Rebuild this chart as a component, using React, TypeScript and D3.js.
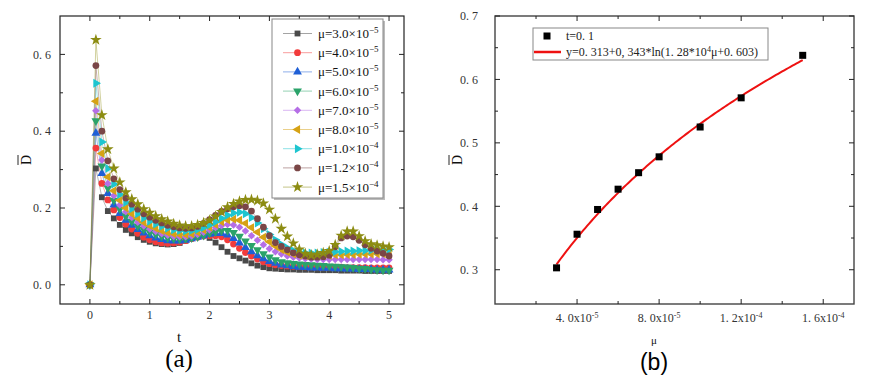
import React from "react";
import * as d3 from "d3";

// ---------- Panel (a) data ----------
const T = [
  0, 0.1, 0.2, 0.3, 0.4, 0.5, 0.6, 0.7, 0.8, 0.9,
  1.0, 1.1, 1.2, 1.3, 1.4, 1.5, 1.6, 1.7, 1.8, 1.9,
  2.0, 2.1, 2.2, 2.3, 2.4, 2.5, 2.6, 2.7, 2.8, 2.9,
  3.0, 3.1, 3.2, 3.3, 3.4, 3.5, 3.6, 3.7, 3.8, 3.9,
  4.0, 4.1, 4.2, 4.3, 4.4, 4.5, 4.6, 4.7, 4.8, 4.9, 5.0,
];

const D_MU30 = [
  0, 0.303, 0.228, 0.192, 0.173, 0.156, 0.143, 0.134, 0.124, 0.117,
  0.112, 0.108, 0.106, 0.105, 0.106, 0.109, 0.115, 0.121, 0.127, 0.129,
  0.122, 0.11, 0.098, 0.086, 0.075, 0.069, 0.063, 0.056, 0.05, 0.046,
  0.043, 0.042, 0.041, 0.04, 0.04, 0.039, 0.039, 0.039, 0.038, 0.038,
  0.038, 0.038, 0.037, 0.037, 0.037, 0.037, 0.036, 0.036, 0.036, 0.036, 0.036,
];
const D_MU40 = [
  0, 0.356, 0.264, 0.221, 0.195, 0.175, 0.158, 0.145, 0.134, 0.124,
  0.117, 0.112, 0.109, 0.108, 0.109, 0.111, 0.115, 0.12, 0.124, 0.127,
  0.128, 0.128, 0.125, 0.117, 0.106, 0.095, 0.084, 0.075, 0.067, 0.06,
  0.055, 0.052, 0.05, 0.049, 0.048, 0.048, 0.047, 0.047, 0.047, 0.046,
  0.046, 0.046, 0.046, 0.045, 0.045, 0.045, 0.045, 0.044, 0.044, 0.044, 0.044,
];
const D_MU50 = [
  0, 0.395, 0.29, 0.238, 0.208, 0.186, 0.168, 0.155, 0.144, 0.135,
  0.128, 0.122, 0.118, 0.115, 0.114, 0.114, 0.116, 0.12, 0.124, 0.128,
  0.132, 0.134, 0.134, 0.13, 0.121, 0.109, 0.097, 0.086, 0.076, 0.068,
  0.061, 0.056, 0.052, 0.05, 0.048, 0.046, 0.045, 0.044, 0.044, 0.043,
  0.043, 0.042, 0.042, 0.041, 0.041, 0.04, 0.04, 0.04, 0.039, 0.039, 0.039,
];
const D_MU60 = [
  0, 0.427, 0.309, 0.252, 0.22, 0.197, 0.179, 0.165, 0.153, 0.144,
  0.137, 0.131, 0.126, 0.122, 0.12, 0.119, 0.12, 0.122, 0.125, 0.129,
  0.134, 0.138, 0.141, 0.141, 0.136, 0.126, 0.114, 0.102, 0.091, 0.081,
  0.072, 0.065, 0.06, 0.057, 0.055, 0.054, 0.053, 0.052, 0.051, 0.05,
  0.049, 0.048, 0.047, 0.046, 0.045, 0.043, 0.042, 0.04, 0.039, 0.038, 0.038,
];
const D_MU70 = [
  0, 0.453, 0.325, 0.264, 0.232, 0.208, 0.19, 0.175, 0.163, 0.153,
  0.145, 0.139, 0.133, 0.129, 0.126, 0.125, 0.125, 0.127, 0.131, 0.137,
  0.143, 0.149, 0.154, 0.157, 0.156, 0.15, 0.14, 0.128, 0.116, 0.104,
  0.094, 0.086, 0.08, 0.075, 0.072, 0.07, 0.068, 0.067, 0.066, 0.066,
  0.066, 0.066, 0.066, 0.066, 0.066, 0.066, 0.066, 0.066, 0.066, 0.065, 0.065,
];
const D_MU80 = [
  0, 0.478, 0.342, 0.281, 0.245, 0.22, 0.2, 0.185, 0.173, 0.163,
  0.154, 0.147, 0.141, 0.136, 0.133, 0.131, 0.131, 0.133, 0.137, 0.143,
  0.15, 0.157, 0.164, 0.169, 0.171, 0.168, 0.16, 0.149, 0.137, 0.124,
  0.112, 0.101, 0.092, 0.085, 0.08, 0.077, 0.076, 0.075, 0.075, 0.076,
  0.077, 0.078, 0.078, 0.079, 0.079, 0.08, 0.08, 0.08, 0.081, 0.081, 0.08,
];
const D_MU100 = [
  0, 0.525, 0.372, 0.303, 0.262, 0.235, 0.214, 0.198, 0.185, 0.174,
  0.165, 0.158, 0.152, 0.147, 0.143, 0.141, 0.14, 0.141, 0.144, 0.149,
  0.156, 0.164, 0.173, 0.181, 0.187, 0.189, 0.185, 0.175, 0.161, 0.146,
  0.131, 0.117, 0.105, 0.096, 0.089, 0.085, 0.083, 0.083, 0.083, 0.084,
  0.085, 0.086, 0.087, 0.088, 0.088, 0.089, 0.089, 0.09, 0.09, 0.091, 0.092,
];
const D_MU120 = [
  0, 0.571, 0.4, 0.323, 0.276, 0.248, 0.226, 0.21, 0.197, 0.185,
  0.176, 0.168, 0.161, 0.155, 0.151, 0.148, 0.147, 0.148, 0.152, 0.16,
  0.17, 0.181, 0.191, 0.198, 0.203, 0.206, 0.203, 0.192, 0.172, 0.15,
  0.128, 0.11, 0.1, 0.091, 0.083, 0.078, 0.075, 0.072, 0.072, 0.073,
  0.077, 0.099, 0.122, 0.127, 0.125, 0.116, 0.104, 0.095, 0.088, 0.082, 0.075,
];
const D_MU150 = [
  0, 0.638, 0.442, 0.353, 0.303, 0.267, 0.241, 0.223, 0.21, 0.197,
  0.188, 0.179, 0.171, 0.165, 0.159, 0.155, 0.153, 0.153, 0.156, 0.161,
  0.168, 0.178, 0.19, 0.202, 0.211, 0.217, 0.221, 0.222, 0.219, 0.212,
  0.196, 0.172, 0.146, 0.126, 0.108, 0.092, 0.081, 0.077, 0.079, 0.083,
  0.088, 0.104, 0.128, 0.139, 0.139, 0.127, 0.114, 0.106, 0.103, 0.1, 0.098,
];

const SERIES_A = [D_MU30, D_MU40, D_MU50, D_MU60, D_MU70, D_MU80, D_MU100, D_MU120, D_MU150];
const LEGEND_MANT = ["3.0", "4.0", "5.0", "6.0", "7.0", "8.0", "1.0", "1.2", "1.5"];
const LEGEND_EXP = ["−5", "−5", "−5", "−5", "−5", "−5", "−4", "−4", "−4"];
const COLORS = ["#4a4a4a", "#f23b3b", "#1f5fd6", "#2ba36a", "#b56ee6", "#d6a215", "#1ec5cf", "#7a4646", "#8c8c12"];
const SHAPES = ["square", "circle", "triUp", "triDown", "diamond", "triLeft", "triRight", "circle", "star"];

const A_XTICKS = [0, 1, 2, 3, 4, 5];
const A_XMINOR = [0.5, 1.5, 2.5, 3.5, 4.5];
const A_YTICKS = [0, 0.2, 0.4, 0.6];
const A_YLABELS = ["0. 0", "0. 2", "0. 4", "0. 6"];
const A_YMINOR = [0.1, 0.3, 0.5];

// ---------- Panel (b) data ----------
const MU_B = [3e-5, 4e-5, 5e-5, 6e-5, 7e-5, 8e-5, 1.0e-4, 1.2e-4, 1.5e-4];
const D_B = [0.303, 0.356, 0.395, 0.427, 0.453, 0.478, 0.525, 0.571, 0.638];
const FIT = [0.313, 0.343, 1.28e4, 0.603];
const B_XTICKS = [4e-5, 8e-5, 1.2e-4, 1.6e-4];
const B_XMANT = ["4. 0x10", "8. 0x10", "1. 2x10", "1. 6x10"];
const B_XEXP = ["-5", "-5", "-4", "-4"];
const B_XMINOR = [2e-5, 6e-5, 1.0e-4, 1.4e-4];
const B_YTICKS = [0.3, 0.4, 0.5, 0.6, 0.7];
const B_YLABELS = ["0. 3", "0. 4", "0. 5", "0. 6", "0. 7"];
const B_YMINOR = [0.35, 0.45, 0.55, 0.65];

const SERIF = "Liberation Serif";
const SANS = "Liberation Sans";

function symbolPath(shape: string): { d: string; rot: number } {
  switch (shape) {
    case "square":
      return { d: d3.symbol(d3.symbolSquare, 34)() as string, rot: 0 };
    case "circle":
      return { d: d3.symbol(d3.symbolCircle, 36)() as string, rot: 0 };
    case "triUp":
      return { d: d3.symbol(d3.symbolTriangle, 34)() as string, rot: 0 };
    case "triDown":
      return { d: d3.symbol(d3.symbolTriangle, 34)() as string, rot: 180 };
    case "triLeft":
      return { d: d3.symbol(d3.symbolTriangle, 34)() as string, rot: -90 };
    case "triRight":
      return { d: d3.symbol(d3.symbolTriangle, 34)() as string, rot: 90 };
    case "diamond":
      return { d: d3.symbol(d3.symbolSquare, 28)() as string, rot: 45 };
    case "star":
      return { d: d3.symbol(d3.symbolStar, 42)() as string, rot: 0 };
  }
  return { d: "", rot: 0 };
}

function Marker({ shape, x, y, color }: { shape: string; x: number; y: number; color: string }) {
  const s = symbolPath(shape);
  return <path d={s.d} transform={`translate(${x},${y}) rotate(${s.rot})`} fill={color} />;
}

const serif = { fontFamily: SERIF };

export default function App() {
  const xA = d3.scaleLinear().domain([-0.5, 5.25]).range([60, 404]);
  const yA = d3.scaleLinear().domain([-0.05, 0.7]).range([304, 16]);
  const A = { l: 60, r: 404, t: 16, b: 304 };

  const xB = d3.scaleLinear().domain([0, 1.75e-4]).range([495, 854]);
  const yB = d3.scaleLinear().domain([0.246, 0.7]).range([304, 16]);
  const B = { l: 495, r: 854, t: 16, b: 304 };

  const lineA = d3
    .line<number>()
    .x((_, i) => xA(T[i]))
    .y((v) => yA(v));

  const fitMu = d3.range(MU_B[0], MU_B[MU_B.length - 1] + 1e-9, 1e-6);
  const fitLine = d3
    .line<number>()
    .x((m) => xB(m))
    .y((m) => yB(FIT[0] + FIT[1] * Math.log(FIT[2] * m + FIT[3])));

  const majLen = 5;
  const minLen = 3;
  const tickColor = "#222";

  return (
    <svg
      width={872}
      height={383}
      style={{ position: "absolute", left: 0, top: 0, background: "#fff", fontFamily: SERIF }}
    >
      <rect x={0} y={0} width={872} height={383} fill="#fff" />

      {/* ---------------- Panel (a) ---------------- */}
      <g>
        {SERIES_A.map((s, k) => (
          <path
            key={"l" + k}
            d={lineA(s) as string}
            fill="none"
            stroke={COLORS[k]}
            strokeOpacity={0.45}
            strokeWidth={0.9}
          />
        ))}
        {SERIES_A.map((s, k) => (
          <g key={"m" + k}>
            {s.map((v, i) => (
              <Marker key={i} shape={SHAPES[k]} x={xA(T[i])} y={yA(v)} color={COLORS[k]} />
            ))}
          </g>
        ))}

        <rect x={A.l} y={A.t} width={A.r - A.l} height={A.b - A.t} fill="none" stroke="#222" strokeWidth={1.2} />
        {A_XTICKS.map((t) => (
          <g key={"ax" + t}>
            <line x1={xA(t)} x2={xA(t)} y1={A.b} y2={A.b - majLen} stroke={tickColor} />
            <line x1={xA(t)} x2={xA(t)} y1={A.t} y2={A.t + majLen} stroke={tickColor} />
            <text x={xA(t)} y={A.b + 15} textAnchor="middle" fontSize={12} fill="#333" style={serif}>
              {t}
            </text>
          </g>
        ))}
        {A_XMINOR.map((t) => (
          <g key={"axm" + t}>
            <line x1={xA(t)} x2={xA(t)} y1={A.b} y2={A.b - minLen} stroke={tickColor} />
            <line x1={xA(t)} x2={xA(t)} y1={A.t} y2={A.t + minLen} stroke={tickColor} />
          </g>
        ))}
        {A_YTICKS.map((v, i) => (
          <g key={"ay" + v}>
            <line x1={A.l} x2={A.l + majLen} y1={yA(v)} y2={yA(v)} stroke={tickColor} />
            <line x1={A.r} x2={A.r - majLen} y1={yA(v)} y2={yA(v)} stroke={tickColor} />
            <text x={A.l - 9} y={yA(v)} dy="0.35em" textAnchor="end" fontSize={12} fill="#333" style={serif}>
              {A_YLABELS[i]}
            </text>
          </g>
        ))}
        {A_YMINOR.map((v) => (
          <g key={"aym" + v}>
            <line x1={A.l} x2={A.l + minLen} y1={yA(v)} y2={yA(v)} stroke={tickColor} />
            <line x1={A.r} x2={A.r - minLen} y1={yA(v)} y2={yA(v)} stroke={tickColor} />
          </g>
        ))}

        {/* legend */}
        <rect x={274} y={21} width={111} height={179} fill="#bbb" />
        <rect x={272} y={19} width={111} height={179} fill="#fff" stroke="#888" strokeWidth={1} />
        {LEGEND_MANT.map((m, i) => {
          const y = 33.5 + 19.2 * i;
          return (
            <g key={"lg" + i}>
              <line x1={283} x2={312} y1={y} y2={y} stroke={COLORS[i]} strokeOpacity={0.5} strokeWidth={1} />
              <Marker shape={SHAPES[i]} x={297.5} y={y} color={COLORS[i]} />
              <text x={318} y={y} dy="0.35em" fontSize={13} fill="#111" style={serif}>
                μ={m}×10
                <tspan fontSize={9} dy="-5">
                  {LEGEND_EXP[i]}
                </tspan>
              </text>
            </g>
          );
        })}

        <g transform="translate(26,160) rotate(-90)">
          <text x={0} y={0} textAnchor="middle" dy="0.35em" fontSize={14} fill="#111" style={serif}>
            D
          </text>
          <line x1={-5} x2={5} y1={-8} y2={-8} stroke="#111" strokeWidth={0.9} />
        </g>
        <text x={179} y={337} textAnchor="middle" dy="0.35em" fontSize={15} fill="#111" style={serif}>
          t
        </text>
        <text x={179} y={358} textAnchor="middle" dy="0.35em" fontSize={25} fill="#000" style={serif}>
          (a)
        </text>
      </g>

      {/* ---------------- Panel (b) ---------------- */}
      <g>
        <path d={fitLine(fitMu) as string} fill="none" stroke="#ee1111" strokeWidth={2} />
        {MU_B.map((m, i) => (
          <rect key={"p" + i} x={xB(m) - 3.5} y={yB(D_B[i]) - 3.5} width={7} height={7} fill="#000" />
        ))}

        <rect x={B.l} y={B.t} width={B.r - B.l} height={B.b - B.t} fill="none" stroke="#444" strokeWidth={1.4} />
        {B_XTICKS.map((m, i) => (
          <g key={"bx" + i}>
            <line x1={xB(m)} x2={xB(m)} y1={B.b} y2={B.b - majLen} stroke={tickColor} />
            <line x1={xB(m)} x2={xB(m)} y1={B.t} y2={B.t + majLen} stroke={tickColor} />
            <text x={xB(m)} y={B.b + 18} textAnchor="middle" fontSize={12} fill="#333" style={serif}>
              {B_XMANT[i]}
              <tspan fontSize={8} dy="-4">
                {B_XEXP[i]}
              </tspan>
            </text>
          </g>
        ))}
        {B_XMINOR.map((m, i) => (
          <g key={"bxm" + i}>
            <line x1={xB(m)} x2={xB(m)} y1={B.b} y2={B.b - minLen} stroke={tickColor} />
            <line x1={xB(m)} x2={xB(m)} y1={B.t} y2={B.t + minLen} stroke={tickColor} />
          </g>
        ))}
        {B_YTICKS.map((v, i) => (
          <g key={"by" + i}>
            <line x1={B.l} x2={B.l + majLen} y1={yB(v)} y2={yB(v)} stroke={tickColor} />
            <line x1={B.r} x2={B.r - majLen} y1={yB(v)} y2={yB(v)} stroke={tickColor} />
            <text x={B.l - 17} y={yB(v)} dy="0.35em" textAnchor="end" fontSize={12} fill="#333" style={serif}>
              {B_YLABELS[i]}
            </text>
          </g>
        ))}
        {B_YMINOR.map((v, i) => (
          <g key={"bym" + i}>
            <line x1={B.l} x2={B.l + minLen} y1={yB(v)} y2={yB(v)} stroke={tickColor} />
            <line x1={B.r} x2={B.r - minLen} y1={yB(v)} y2={yB(v)} stroke={tickColor} />
          </g>
        ))}

        <rect x={533} y={28} width={235} height={32} fill="#fff" stroke="#888" strokeWidth={1} />
        <rect x={543.5} y={32.5} width={7} height={7} fill="#000" />
        <text x={566} y={36} dy="0.35em" fontSize={12} fill="#222" style={serif}>
          t=0. 1
        </text>
        <line x1={534} x2={561} y1={52} y2={52} stroke="#ee1111" strokeWidth={2.5} />
        <text x={566} y={52} dy="0.35em" fontSize={12} fill="#222" style={serif}>
          y=0. 313+0, 343*ln(1. 28*10
          <tspan fontSize={8} dy="-4">
            4
          </tspan>
          <tspan dy="4">μ+0. 603)</tspan>
        </text>

        <g transform="translate(457,160) rotate(-90)">
          <text x={0} y={0} textAnchor="middle" dy="0.35em" fontSize={14} fill="#111" style={serif}>
            D
          </text>
          <line x1={-5} x2={5} y1={-8} y2={-8} stroke="#111" strokeWidth={0.9} />
        </g>
        <text x={654} y={340} textAnchor="middle" dy="0.35em" fontSize={11} fill="#111" style={serif}>
          μ
        </text>
        <text x={654} y={362} textAnchor="middle" dy="0.35em" fontSize={23} fill="#000" style={{ fontFamily: SANS }}>
          (b)
        </text>
      </g>
    </svg>
  );
}
